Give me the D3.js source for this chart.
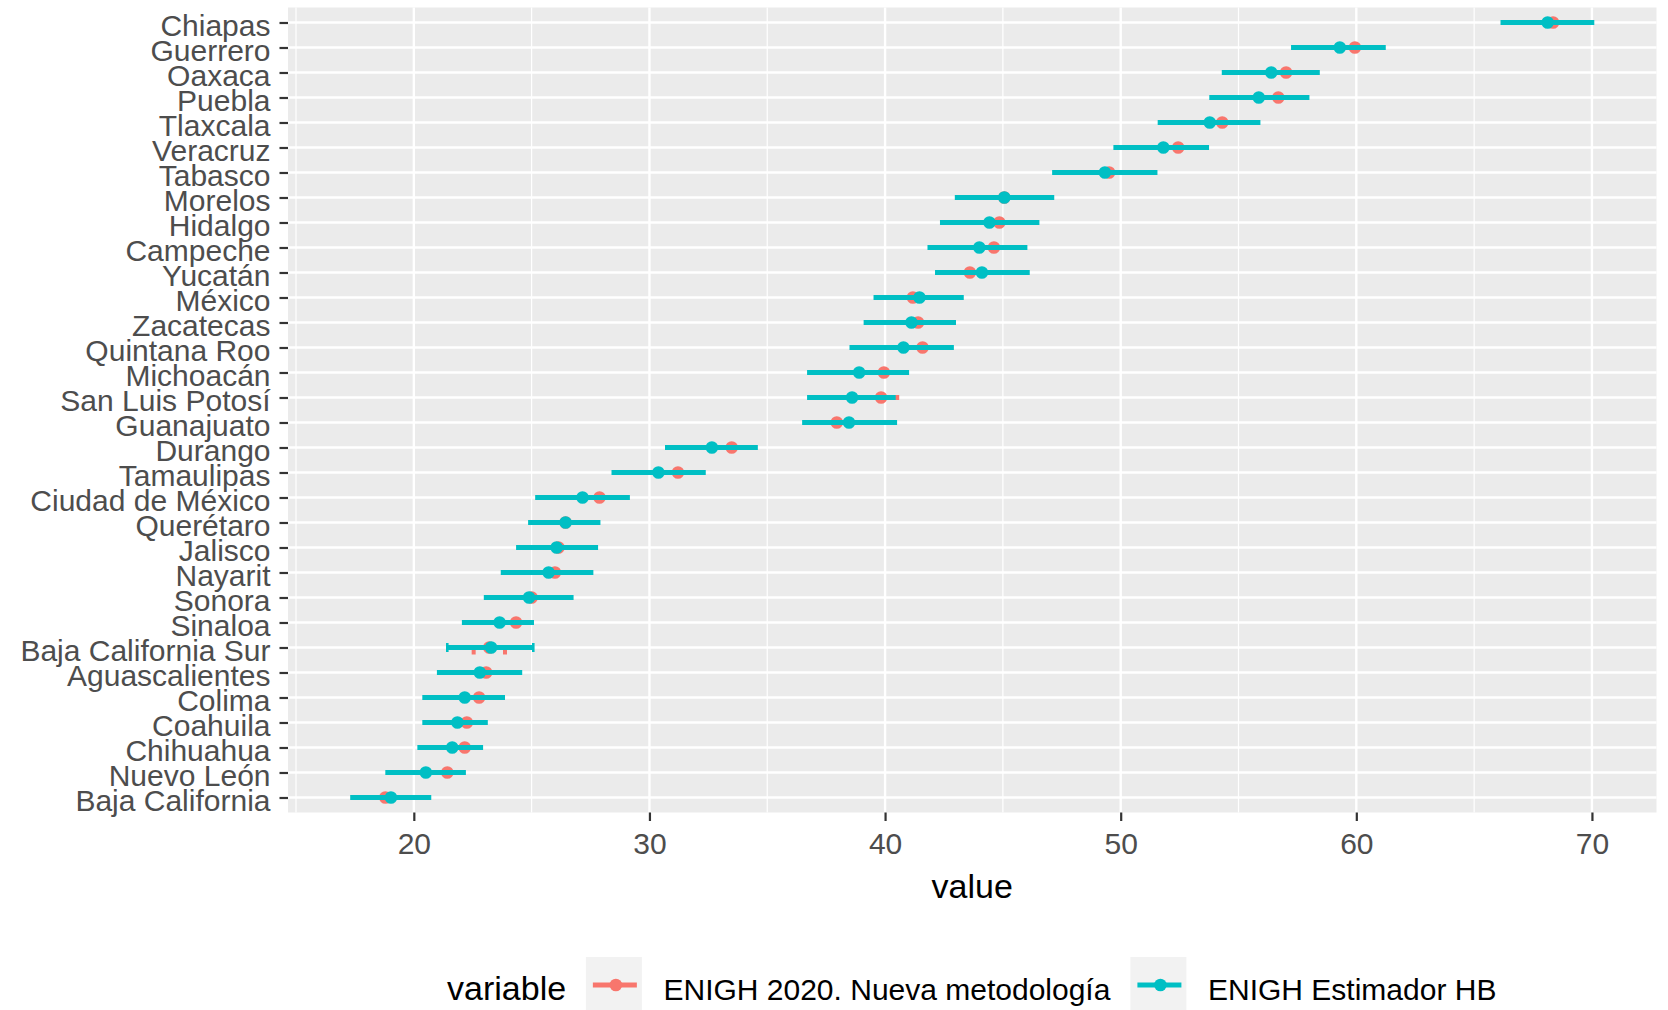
<!DOCTYPE html>
<html>
<head>
<meta charset="utf-8">
<script src="https://cdn.jsdelivr.net/npm/d3@7"></script>
<style>
  html, body { margin: 0; padding: 0; background: #ffffff; }
  svg { display: block; }
  text { font-family: "Liberation Sans", Arial, sans-serif; }
</style>
</head>
<body>
<svg id="chart" width="1668" height="1010"></svg>
<script>
// ---------- data ----------
const states = ["Chiapas","Guerrero","Oaxaca","Puebla","Tlaxcala","Veracruz","Tabasco","Morelos",
  "Hidalgo","Campeche","Yucatán","México","Zacatecas","Quintana Roo","Michoacán","San Luis Potosí",
  "Guanajuato","Durango","Tamaulipas","Ciudad de México","Querétaro","Jalisco","Nayarit","Sonora",
  "Sinaloa","Baja California Sur","Aguascalientes","Colima","Coahuila","Chihuahua","Nuevo León","Baja California"];

const seriesNames = ["ENIGH 2020. Nueva metodología", "ENIGH Estimador HB"];

// ENIGH 2020. Nueva metodología (point estimate)
const enigh2020 = [68.35, 59.94, 57.02, 56.69, 54.31, 52.44, 49.51, 45.06, 44.85, 44.62, 43.60, 41.18,
  41.40, 41.59, 39.95, 39.83, 37.95, 33.49, 31.21, 27.88, 26.44, 26.14, 25.99, 25.00, 24.34, 23.20,
  23.07, 22.77, 22.25, 22.16, 21.42, 18.79];
// ENIGH 2020 interval (only visible where it sticks out from under the HB interval)
const enigh2020Lo = [null,null,null,null,null,null,null,null,null,null,null,null,null,null,null,36.90,
  null,null,null,null,null,null,null,null,null,22.54,null,null,null,null,null,null];
const enigh2020Hi = [null,null,null,null,null,null,null,null,null,null,null,null,null,null,null,40.60,
  null,null,null,null,null,null,null,null,null,23.87,null,null,null,null,null,null];
const enigh2020Caps = [false,false,false,false,false,false,false,false,false,false,false,false,false,false,false,false,
  false,false,false,false,false,false,false,false,false,true,false,false,false,false,false,false];

// ENIGH Estimador HB (point estimate + interval)
const estimadorHB = [68.12, 59.30, 56.39, 55.86, 53.78, 51.81, 49.33, 45.06, 44.43, 44.00, 44.11, 41.46,
  41.12, 40.78, 38.90, 38.60, 38.47, 32.65, 30.38, 27.16, 26.44, 26.06, 25.72, 24.89, 23.64, 23.28,
  22.80, 22.16, 21.85, 21.63, 20.51, 19.03];
const estimadorHBLo = [66.12, 57.23, 54.29, 53.76, 51.57, 49.69, 47.09, 42.96, 42.33, 41.80, 42.12, 39.51,
  39.09, 38.49, 36.69, 36.69, 36.48, 30.66, 28.39, 25.15, 24.85, 24.34, 23.69, 22.97, 22.04, 21.42,
  20.98, 20.36, 20.36, 20.15, 18.79, 17.30];
const estimadorHBHi = [70.10, 61.25, 58.45, 58.01, 55.93, 53.75, 51.56, 47.18, 46.55, 46.04, 46.14, 43.34,
  43.01, 42.92, 41.02, 40.45, 40.51, 34.60, 32.39, 29.17, 27.92, 27.82, 27.62, 26.78, 25.10, 25.07,
  24.60, 23.87, 23.14, 22.94, 22.21, 20.74];
const estimadorHBCaps = [false,false,false,false,false,false,false,false,false,false,false,false,false,false,false,false,
  false,false,false,false,false,false,false,false,false,true,false,false,false,false,false,false];

const xTicks = [20, 30, 40, 50, 60, 70];
const xMinor = [15, 25, 35, 45, 55, 65];
const xTitle = "value";
const legendTitle = "variable";

// ---------- layout ----------
const colors = ["#F8766D", "#00BFC4"];
const panel = { left: 288, right: 1656.5, top: 7.5, bottom: 812.5 };
const svg = d3.select("#chart");

const allLo = d3.min(estimadorHBLo), allHi = d3.max(estimadorHBHi);
const pad = (allHi - allLo) * 0.05;
const x = d3.scaleLinear().domain([allLo - pad, allHi + pad]).range([panel.left, panel.right]);
const y = d3.scalePoint().domain(states).range([panel.top, panel.bottom]).padding(0.6);

// panel background
svg.append("rect")
  .attr("x", panel.left).attr("y", panel.top)
  .attr("width", panel.right - panel.left).attr("height", panel.bottom - panel.top)
  .attr("fill", "#EBEBEB");

// minor grid
svg.append("g").selectAll("line").data(xMinor).join("line")
  .attr("x1", d => x(d)).attr("x2", d => x(d))
  .attr("y1", panel.top).attr("y2", panel.bottom)
  .attr("stroke", "#ffffff").attr("stroke-width", 1.2);
// major grid
svg.append("g").selectAll("line").data(xTicks).join("line")
  .attr("x1", d => x(d)).attr("x2", d => x(d))
  .attr("y1", panel.top).attr("y2", panel.bottom)
  .attr("stroke", "#ffffff").attr("stroke-width", 2.4);
svg.append("g").selectAll("line").data(states).join("line")
  .attr("x1", panel.left).attr("x2", panel.right)
  .attr("y1", d => y(d)).attr("y2", d => y(d))
  .attr("stroke", "#ffffff").attr("stroke-width", 2.4);

// rows
const rows = states.map((s, i) => ({
  state: s,
  pts: [enigh2020[i], estimadorHB[i]],
  lo: [enigh2020Lo[i], estimadorHBLo[i]],
  hi: [enigh2020Hi[i], estimadorHBHi[i]],
  caps: [enigh2020Caps[i], estimadorHBCaps[i]]
}));

const marks = svg.append("g");
// points first (red, then teal)
[0, 1].forEach(k => {
  marks.append("g").selectAll("circle").data(rows).join("circle")
    .attr("cx", d => x(d.pts[k])).attr("cy", d => y(d.state))
    .attr("r", 6.3).attr("fill", colors[k]);
});
// intervals (red, then teal)
[0, 1].forEach(k => {
  const g = marks.append("g");
  const withBar = rows.filter(d => d.lo[k] != null && d.hi[k] != null);
  g.selectAll("line.bar").data(withBar).join("line").attr("class", "bar")
    .attr("x1", d => x(d.lo[k])).attr("x2", d => x(d.hi[k]))
    .attr("y1", d => y(d.state)).attr("y2", d => y(d.state))
    .attr("stroke", colors[k]).attr("stroke-width", 5);
  const capped = withBar.filter(d => d.caps[k]);
  const capTop = k === 0 ? -1 : -4.5, capBot = k === 0 ? 7 : 4.5;
  capped.forEach(d => {
    [d.lo[k], d.hi[k]].forEach(v => {
      g.append("line")
        .attr("x1", x(v)).attr("x2", x(v))
        .attr("y1", y(d.state) + capTop).attr("y2", y(d.state) + capBot)
        .attr("stroke", colors[k]).attr("stroke-width", k === 0 ? 4 : 2.6);
    });
  });
});

// axes
const axisColor = "#333333", textColor = "#4D4D4D";
const yAx = svg.append("g").attr("transform", `translate(${panel.left},0)`)
  .call(d3.axisLeft(y).tickSize(8.5).tickPadding(9));
yAx.select(".domain").remove();
yAx.selectAll(".tick line").attr("stroke", axisColor).attr("stroke-width", 2.2);
yAx.selectAll(".tick text").attr("fill", textColor)
  .style("font-size", "30px").style("font-family", "'Liberation Sans', Arial, sans-serif")
  .attr("dy", null).attr("y", 12.6);

const xAx = svg.append("g").attr("transform", `translate(0,${panel.bottom})`)
  .call(d3.axisBottom(x).tickValues(xTicks).tickSize(8.5).tickPadding(12).tickFormat(d3.format("d")));
xAx.select(".domain").remove();
xAx.selectAll(".tick line").attr("stroke", axisColor).attr("stroke-width", 2.2);
xAx.selectAll(".tick text").attr("fill", textColor)
  .style("font-size", "30px").style("font-family", "'Liberation Sans', Arial, sans-serif");

// x title
svg.append("text")
  .attr("x", (panel.left + panel.right) / 2).attr("y", 898)
  .attr("text-anchor", "middle").attr("fill", "#000000")
  .style("font-size", "34px").text(xTitle);

// legend
const leg = svg.append("g");
const baseY = 1000, keyTop = 957, keySize = 56;
const tTitle = leg.append("text").attr("y", baseY).attr("fill", "#000").style("font-size", "34px").text(legendTitle);
const items = seriesNames.map((name, k) => {
  const keyG = leg.append("g");
  keyG.append("rect").attr("width", keySize).attr("height", keySize).attr("y", keyTop).attr("fill", "#F2F2F2");
  keyG.append("line").attr("x1", 7).attr("x2", keySize - 5).attr("y1", keyTop + 28).attr("y2", keyTop + 28)
    .attr("stroke", colors[k]).attr("stroke-width", 5);
  keyG.append("circle").attr("cx", keySize / 2 + 2).attr("cy", keyTop + 28).attr("r", 6.3).attr("fill", colors[k]);
  const t = leg.append("text").attr("y", baseY).attr("fill", "#000").style("font-size", "30px").text(name);
  return { keyG, t };
});
// chain positions
let cx = 0;
const titleW = tTitle.node().getComputedTextLength();
tTitle.attr("x", cx); cx += titleW + 19.7;
items.forEach((it, k) => {
  it.keyG.attr("transform", `translate(${cx},0)`); cx += keySize + 21.6;
  it.t.attr("x", cx); cx += it.t.node().getComputedTextLength();
  if (k < items.length - 1) cx += 20;
});
const legCenter = (panel.left + panel.right) / 2 - 0.5;
leg.attr("transform", `translate(${legCenter - cx / 2},0)`);
</script>
</body>
</html>
